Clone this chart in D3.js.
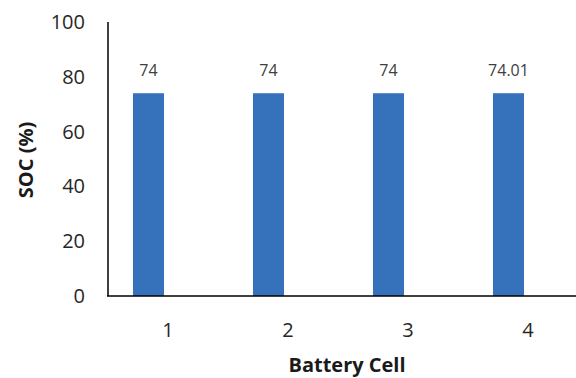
<!DOCTYPE html>
<html><head><meta charset="utf-8">
<script src="https://cdn.jsdelivr.net/npm/d3@7"></script>
<style>body{margin:0;background:#fff}svg{display:block}text{font-family:"Open Sans",sans-serif}</style>
</head><body><svg id="c" width="576" height="378"></svg>
<script>
const categories = ["1","2","3","4"];
const socValues = [74, 74, 74, 74.01];
const valueLabels = ["74","74","74","74.01"];
const yTicks = [0,20,40,60,80,100];

const svg = d3.select("#c");
const y = d3.scaleLinear().domain([0,100]).range([296,22]);
const x = d3.scaleBand().domain(categories).range([108,588]).padding(0);
const sub = d3.scaleBand().domain([0,1]).range([25,87]);

// bars
svg.selectAll("rect.bar").data(categories).join("rect")
  .attr("x", (c)=>x(c)+sub(0)).attr("width", sub.bandwidth())
  .attr("y", (c,i)=>y(socValues[i])).attr("height",(c,i)=>y(0)-y(socValues[i]))
  .attr("fill","#3671bb");

// value labels
svg.selectAll("text.val").data(categories).join("text")
  .attr("x",(c)=>x(c)+sub(0)+sub.bandwidth()/2).attr("y",(c,i)=>y(socValues[i])-17)
  .attr("text-anchor","middle").attr("font-size",16).attr("fill","#404040")
  .text((c,i)=>valueLabels[i]);

// y axis
const yAxis = d3.axisLeft(y).tickValues(yTicks).tickSize(0).tickPadding(23);
const gy = svg.append("g").attr("transform","translate(108,0)").call(yAxis);
gy.select(".domain").remove();
gy.selectAll("text").attr("font-size",20).attr("fill","#262626").attr("font-family","Open Sans");
svg.append("line").attr("x1",108).attr("x2",108).attr("y1",y(100)).attr("y2",y(0)).attr("stroke","#000").attr("stroke-width",1.5);

// x axis
const xAxis = d3.axisBottom(x).tickSize(0).tickPadding(27);
const gx = svg.append("g").attr("transform","translate(0,296)").call(xAxis);
gx.select(".domain").remove();
gx.selectAll("text").attr("font-size",20).attr("fill","#262626").attr("font-family","Open Sans");
svg.append("line").attr("x1",107).attr("x2",576).attr("y1",y(0)).attr("y2",y(0)).attr("stroke","#000").attr("stroke-width",1.5);

// axis titles
svg.append("text").attr("x",347).attr("y",372).attr("text-anchor","middle")
  .attr("font-size",20).attr("font-weight","bold").attr("fill","#1a1a1a").text("Battery Cell");
svg.append("text").attr("transform","translate(33,160) rotate(-90)").attr("text-anchor","middle")
  .attr("font-size",20).attr("font-weight","bold").attr("fill","#1a1a1a").text("SOC (%)");
</script></body></html>
